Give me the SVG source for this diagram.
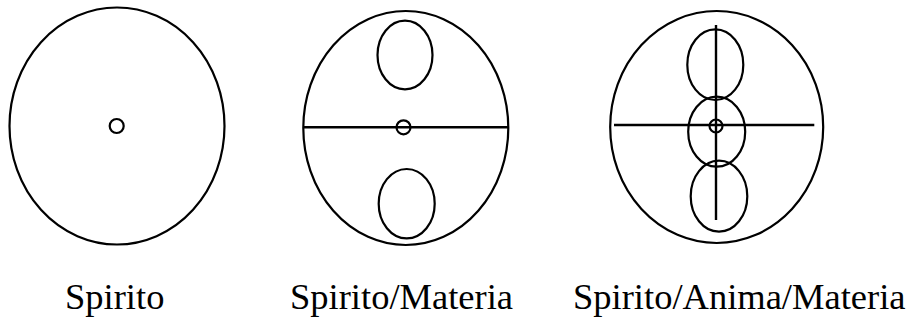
<svg xmlns="http://www.w3.org/2000/svg" width="912" height="320" viewBox="0 0 912 320">
<style>
.s{fill:none;stroke:#000;stroke-width:2.2}
.l{stroke:#000;stroke-width:2.4}
.t{font-family:"Liberation Serif","Times New Roman",serif;font-size:36.5px;fill:#000}
</style>
<rect width="912" height="320" fill="#fff"/>
<g id="spirito">
<ellipse class="s" cx="117" cy="126" rx="107.5" ry="118.5"/>
<circle class="s" cx="116.7" cy="126" r="7"/>
</g>
<g id="spirito-materia">
<ellipse class="s" cx="405.8" cy="128" rx="102.5" ry="117"/>
<ellipse class="s" cx="405" cy="55" rx="27.5" ry="34.3"/>
<ellipse class="s" cx="406.7" cy="203.7" rx="28" ry="34.7"/>
<line class="l" x1="303.5" y1="127.3" x2="508" y2="127.3"/>
<circle class="s" cx="403.5" cy="127.3" r="7"/>
</g>
<g id="spirito-anima-materia">
<ellipse class="s" cx="716.7" cy="127" rx="106.5" ry="116"/>
<ellipse class="s" cx="715.3" cy="64.7" rx="28" ry="35.3"/>
<ellipse class="s" cx="716.7" cy="131.7" rx="28.5" ry="35"/>
<ellipse class="s" cx="719" cy="196.2" rx="28.3" ry="35.5"/>
<line class="l" x1="614" y1="125" x2="814.3" y2="125"/>
<line class="l" x1="716" y1="25" x2="716" y2="220"/>
<circle class="s" cx="716" cy="126" r="6.5"/>
</g>
<g id="labels">
<text class="t" x="65" y="309">Spirito</text>
<text class="t" x="290" y="309">Spirito/Materia</text>
<text class="t" x="573" y="309">Spirito/Anima/Materia</text>
</g>
</svg>
